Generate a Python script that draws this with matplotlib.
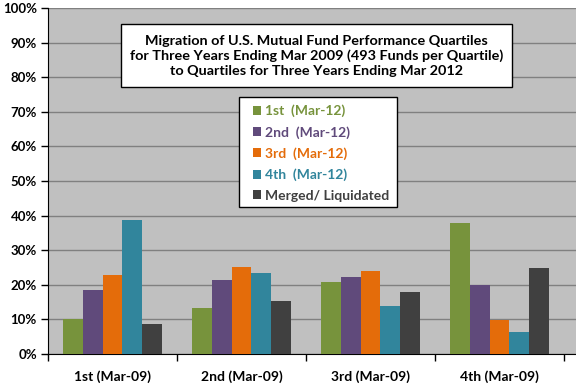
import matplotlib.pyplot as plt
import numpy as np
from matplotlib.patches import Rectangle

plt.rcParams['font.family'] = ['Lato', 'DejaVu Sans']
plt.rcParams['font.weight'] = 'bold'

groups = ['1st (Mar-09)', '2nd (Mar-09)', '3rd (Mar-09)', '4th (Mar-09)']
series = ['1st  (Mar-12)', '2nd  (Mar-12)', '3rd  (Mar-12)', '4th  (Mar-12)', 'Merged/ Liquidated']
first_q = [10.1, 13.3, 20.9, 38.0]
second_q = [18.5, 21.4, 22.3, 20.0]
third_q = [22.9, 25.2, 24.1, 9.9]
fourth_q = [38.6, 23.5, 13.9, 6.4]
merged = [8.7, 15.4, 18.0, 25.0]
values = [first_q, second_q, third_q, fourth_q, merged]
colors = ['#77933C', '#604A7B', '#E46C0A', '#31859C', '#404040']

title = ("Migration of U.S. Mutual Fund Performance Quartiles\n"
         "for Three Years Ending Mar 2009 (493 Funds per Quartile)\n"
         "to Quartiles for Three Years Ending Mar 2012")

W, H = 576, 384
fig = plt.figure(figsize=(W/100, H/100), dpi=100)
ax = fig.add_axes([48/W, 30/H, 528/W, 346/H])
ax.set_facecolor('#C0C0C0')

x = np.arange(len(groups))
bw = 0.153
handles = []
for k, (vals, c) in enumerate(zip(values, colors)):
    h = ax.bar(x + (k - 2)*bw, vals, width=bw, color=c, zorder=3, label=series[k])
    handles.append(h)

ax.set_ylim(0, 100)
ax.set_xlim(-0.5, 3.593)
ax.set_yticks(np.arange(0, 101, 10))
ax.set_yticklabels([f"{v}%" for v in range(0, 101, 10)], fontsize=9.5, fontweight='bold')
ax.set_xticks(x)
ax.set_xticklabels(groups, fontsize=10, fontweight='bold')
ax.set_xticks(np.arange(-0.5, 3.6, 1), minor=True)
ax.tick_params(axis='x', which='major', length=0, pad=12)
ax.tick_params(axis='x', which='minor', length=5, width=1, direction='out')
ax.tick_params(axis='y', length=5, width=1, direction='out', pad=3)
ax.yaxis.grid(True, color='#808080', lw=1, zorder=1)
ax.set_axisbelow(True)
for s in ['top', 'right']:
    ax.spines[s].set_visible(False)
ax.spines['left'].set_color('black')
ax.spines['bottom'].set_color('black')

# title box
fig.patches.append(Rectangle((121/W, 1 - 87/H), 391/W, 63/H, transform=fig.transFigure,
                             facecolor='white', edgecolor='black', lw=1, zorder=5))
fig.text(316.5/W, 1 - 56/H, title, ha='center', va='center', fontsize=10.4, fontweight='bold',
         linespacing=1.3, zorder=6)

# legend box
ax.add_patch(Rectangle((239/W, 1 - 207/H), 158/W, 110/H, transform=fig.transFigure,
                       facecolor='white', edgecolor='black', lw=1, zorder=4, clip_on=False))
leg = ax.legend(handles=handles, loc='upper left', bbox_to_anchor=(245.5/W, 1 - 97/H),
                bbox_transform=fig.transFigure, frameon=False, fontsize=10,
                handlelength=0.6, handleheight=0.6, handletextpad=0.25,
                labelspacing=0.62, borderpad=0.55, borderaxespad=0)
leg.set_zorder(6)
for t, c in zip(leg.get_texts(), colors):
    t.set_color(c)
    t.set_fontweight('bold')

fig.savefig('out.png', dpi=100)
